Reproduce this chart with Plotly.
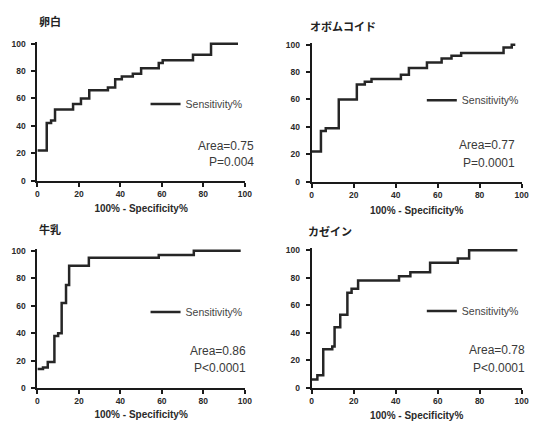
import plotly.graph_objects as go

# ---- data ----
titles = ["卵白", "オボムコイド", "牛乳", "カゼイン"]
areas = ["Area=0.75", "Area=0.77", "Area=0.86", "Area=0.78"]
pvals = ["P=0.004", "P=0.0001", "P<0.0001", "P<0.0001"]
tick_vals = [0, 20, 40, 60, 80, 100]

egg_x = [0, 4.5, 6.6, 8.5, 17.2, 21, 25, 34, 37.5, 40.7, 46, 50, 58.5, 60.4, 75, 83.7, 96.7]
egg_y = [22, 42, 44, 52, 56, 60, 66, 68, 74, 76, 78, 82, 86, 88, 92, 100, 100]

ovo_x = [0, 4.4, 6.7, 12.9, 21.5, 25.3, 28.5, 42.5, 46.3, 54.9, 61.9, 66.6, 71.2, 91.4, 95.3, 97]
ovo_y = [22, 37, 39, 60, 71, 73, 75, 78, 83, 87, 90, 92, 94, 98, 100, 100]

milk_x = [0, 2.7, 5, 8.2, 10, 11.7, 13.8, 15.3, 24.8, 58.5, 75.4, 98]
milk_y = [14, 15, 19, 38, 40, 62, 75, 89, 95, 97, 100, 100]

cas_x = [0, 2.7, 5.5, 9.8, 10.9, 13.6, 17, 19, 22.1, 41.6, 47, 56.4, 69.6, 75, 98]
cas_y = [6, 9, 28, 30, 44, 53, 69, 72, 78, 81, 84, 91, 94, 100, 100]

series = [(egg_x, egg_y), (ovo_x, ovo_y), (milk_x, milk_y), (cas_x, cas_y)]

W, H = 535, 426
# pixel boxes of the four plot areas: (x0, x100, y0px, y100px)
boxes = [(36, 247, 181, 41.5), (315, 528.5, 182, 42.5),
         (36, 247, 392.5, 252.5), (315, 528.5, 392, 252)]
YMAX = 101.5

fig = go.Figure()
font_main = "Liberation Sans, Arial, sans-serif"
jp_font = "Noto Sans CJK JP"

legend_pos = [(146, 103), (427, 99), (146, 315), (427, 314)]
area_pos = [(258, 146, 162), (524, 145, 163), (250, 355, 372), (534, 354, 372)]
title_pos = [(36, 18), (311, 23), (36, 230), (309, 232)]
xtitle_standoff = [7, 8, 6, 7]

for i, ((sx, sy), (x0, x1, yb, yt)) in enumerate(zip(series, boxes)):
    n = "" if i == 0 else str(i + 1)
    ytop_px = yb - (yb - yt) * YMAX / 100
    fig.add_trace(go.Scatter(
        x=sx, y=sy, mode="lines", line=dict(shape="hv", color="#262626", width=2.5),
        name="Sensitivity%", xaxis="x" + n, yaxis="y" + n,
        legend="legend" + n, showlegend=True))
    axis_common = dict(showline=True, linecolor="#1a1a1a", linewidth=2,
                       ticks="outside", ticklen=4, tickwidth=1.6, tickcolor="#1a1a1a",
                       showgrid=False, zeroline=False,
                       tickfont=dict(family=font_main, size=8.5, color="#2a2a2a", weight="bold"),
                       tickvals=tick_vals, fixedrange=True)
    fig.layout["xaxis" + n] = dict(
        axis_common, domain=[x0 / W, x1 / W], range=[0, 100], anchor="y" + n,
        title=dict(text="100% - Specificity%", standoff=xtitle_standoff[i],
                   font=dict(family=font_main, size=10, color="#2a2a2a", weight="bold")))
    fig.layout["yaxis" + n] = dict(
        axis_common, domain=[1 - yb / H, 1 - ytop_px / H], range=[0, YMAX],
        anchor="x" + n, ticklabelstandoff=4)
    lx, ly = legend_pos[i]
    fig.layout["legend" + n] = dict(
        x=lx / W, y=1 - ly / H, xanchor="left", yanchor="middle",
        bgcolor="rgba(0,0,0,0)", borderwidth=0, itemwidth=30,
        font=dict(family=font_main, size=10.5, color="#444444"))
    ax, ay1, ay2 = area_pos[i]
    for txt, yy in ((areas[i], ay1), (pvals[i], ay2)):
        fig.add_annotation(text=txt, xref="paper", yref="paper", x=ax / W, y=1 - yy / H,
                           xanchor="right", yanchor="middle", showarrow=False,
                           font=dict(family=font_main, size=12, color="#3a3a3a"))
    tx, ty = title_pos[i]
    fig.add_annotation(text="<b>" + titles[i] + "</b>", xref="paper", yref="paper",
                       x=tx / W, y=1 - ty / H, xanchor="left", yanchor="middle",
                       showarrow=False, font=dict(family=jp_font, size=11, color="#222222"))

fig.update_layout(width=W, height=H, margin=dict(l=0, r=0, t=0, b=0),
                  paper_bgcolor="white", plot_bgcolor="white")
fig.write_html("out.html", config={"displayModeBar": False},
               post_script="document.body.style.margin='0';document.body.style.overflow='hidden';")
